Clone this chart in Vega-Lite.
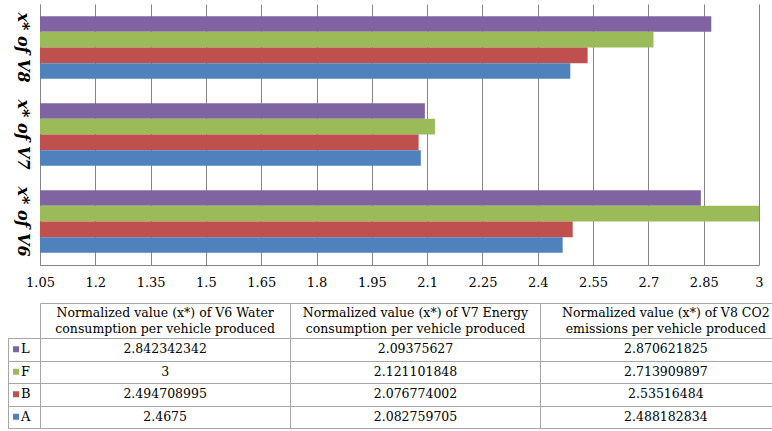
{
  "$schema": "https://vega.github.io/schema/vega-lite/v6.json",
  "background": "white",
  "padding": {"left": 7, "top": 4, "right": 0, "bottom": 0},
  "config": {
    "view": {"stroke": "#a6a6a6", "strokeWidth": 1},
    "font": "DejaVu Serif",
    "axis": {"labelFont": "DejaVu Serif", "labelColor": "#000000"},
    "text": {"font": "DejaVu Serif", "fontSize": 12.5, "color": "#000000"}
  },
  "datasets": {
    "bars": [
      {"variable": "V6", "series": "L", "value": 2.842342342},
      {"variable": "V6", "series": "F", "value": 3},
      {"variable": "V6", "series": "B", "value": 2.494708995},
      {"variable": "V6", "series": "A", "value": 2.4675},
      {"variable": "V7", "series": "L", "value": 2.09375627},
      {"variable": "V7", "series": "F", "value": 2.121101848},
      {"variable": "V7", "series": "B", "value": 2.076774002},
      {"variable": "V7", "series": "A", "value": 2.082759705},
      {"variable": "V8", "series": "L", "value": 2.870621825},
      {"variable": "V8", "series": "F", "value": 2.713909897},
      {"variable": "V8", "series": "B", "value": 2.53516484},
      {"variable": "V8", "series": "A", "value": 2.488182834}
    ],
    "series": [
      {"series": "L"},
      {"series": "F"},
      {"series": "B"},
      {"series": "A"}
    ]
  },
  "columns": 2,
  "align": "each",
  "bounds": "flush",
  "spacing": {"row": 73, "column": 0},
  "concat": [
    {
      "width": 32,
      "height": 261,
      "view": {"stroke": null},
      "data": {"values": []},
      "mark": {"type": "text"},
      "encoding": {}
    },
    {
      "width": 719,
      "height": 261,
      "view": {"stroke": null},
      "data": {"name": "bars"},
      "mark": {"type": "bar", "clip": true},
      "encoding": {
        "y": {
          "field": "variable",
          "type": "nominal",
          "sort": ["V8", "V7", "V6"],
          "scale": {"paddingInner": 0.28, "paddingOuter": 0.14},
          "axis": {
            "title": null,
            "domain": true,
            "domainColor": "#868686",
            "ticks": false,
            "tickSize": 0,
            "grid": false,
            "labelExpr": "'x* of ' + datum.label",
            "labelAngle": 90,
            "labelAlign": "center",
            "labelBaseline": "top",
            "labelPadding": 10,
            "labelFont": "DejaVu Serif",
            "labelFontSize": 16,
            "labelFontStyle": "italic",
            "labelFontWeight": "bold",
            "labelColor": "#000000",
            "labelLimit": 0
          }
        },
        "yOffset": {"field": "series", "type": "nominal", "sort": ["L", "F", "B", "A"]},
        "x": {
          "field": "value",
          "type": "quantitative",
          "scale": {"domain": [1.05, 3], "zero": false, "nice": false},
          "axis": {
            "title": null,
            "values": [1.05, 1.2, 1.35, 1.5, 1.65, 1.8, 1.95, 2.1, 2.25, 2.4, 2.55, 2.7, 2.85, 3],
            "format": ".3~g",
            "grid": true,
            "gridColor": "#868686",
            "gridWidth": 1,
            "domain": true,
            "domainColor": "#868686",
            "ticks": false,
            "tickSize": 0,
            "labelPadding": 11,
            "labelFlush": false,
            "labelOverlap": false,
            "labelFont": "DejaVu Serif",
            "labelFontSize": 13,
            "labelColor": "#000000"
          }
        },
        "x2": {"datum": 1.05},
        "color": {
          "field": "series",
          "type": "nominal",
          "scale": {"domain": ["L", "F", "B", "A"], "range": ["#8064A2", "#9BBB59", "#C0504D", "#4F81BD"]},
          "legend": null
        }
      }
    },
    {
      "width": 32,
      "height": 90,
      "data": {"name": "series"},
      "layer": [
        {
          "mark": {"type": "square", "size": 36, "filled": true, "opacity": 1, "xOffset": -8},
          "encoding": {
            "y": {
              "field": "series",
              "type": "nominal",
              "sort": ["L", "F", "B", "A"],
              "scale": {"paddingInner": 0, "paddingOuter": 0},
              "axis": {"title": null, "labels": false, "ticks": false, "domain": false, "grid": true, "tickBand": "extent", "gridColor": "#a6a6a6"}
            },
            "color": {
              "field": "series",
              "type": "nominal",
              "scale": {"domain": ["L", "F", "B", "A"], "range": ["#8064A2", "#9BBB59", "#C0504D", "#4F81BD"]},
              "legend": null
            }
          }
        },
        {
          "mark": {"type": "text", "align": "left", "dx": -3, "fontSize": 13},
          "encoding": {
            "y": {"field": "series", "type": "nominal", "sort": ["L", "F", "B", "A"]},
            "text": {"field": "series", "type": "nominal"}
          }
        }
      ]
    },
    {
      "width": 733,
      "height": 90,
      "data": {"name": "bars"},
      "layer": [
        {
          "mark": {"type": "text", "fontSize": 12.5},
          "encoding": {
            "x": {
              "field": "variable",
              "type": "nominal",
              "sort": ["V6", "V7", "V8"],
              "scale": {"type": "band", "range": [0, 751], "paddingInner": 0, "paddingOuter": 0},
              "axis": {
                "orient": "top",
                "title": null,
                "bandPosition": 0,
                "ticks": true,
                "tickSize": 35,
                "tickColor": "#a6a6a6",
                "domain": true,
                "domainColor": "#a6a6a6",
                "grid": true,
                "gridColor": "#a6a6a6",
                "labelAngle": 0,
                "labelAlign": "center",
                "labelBaseline": "middle",
                "labelPadding": -9.5,
                "labelLineHeight": 16,
                "labelLimit": 0,
                "labelFont": "DejaVu Serif",
                "labelFontSize": 12.5,
                "labelColor": "#000000",
                "labelExpr": "datum.value == 'V6' ? ['Normalized value (x*) of V6 Water', 'consumption per vehicle produced'] : datum.value == 'V7' ? ['Normalized value (x*) of V7 Energy', 'consumption per vehicle produced'] : ['Normalized value (x*) of V8 CO2', 'emissions per vehicle produced']"
              }
            },
            "y": {
              "field": "series",
              "type": "nominal",
              "sort": ["L", "F", "B", "A"],
              "scale": {"paddingInner": 0, "paddingOuter": 0},
              "axis": {"title": null, "labels": false, "ticks": false, "domain": false, "grid": true, "tickBand": "extent", "gridColor": "#a6a6a6"}
            },
            "text": {"field": "value", "type": "nominal"}
          }
        },
        {
          "mark": {"type": "text", "text": ""},
          "encoding": {
            "x": {
              "field": "variable",
              "type": "nominal",
              "sort": ["V6", "V7", "V8"],
              "axis": {"orient": "top", "offset": 35, "title": null, "labels": false, "ticks": false, "grid": false, "domain": true, "domainColor": "#a6a6a6"}
            }
          }
        }
      ],
      "resolve": {"axis": {"x": "independent"}}
    }
  ]
}
